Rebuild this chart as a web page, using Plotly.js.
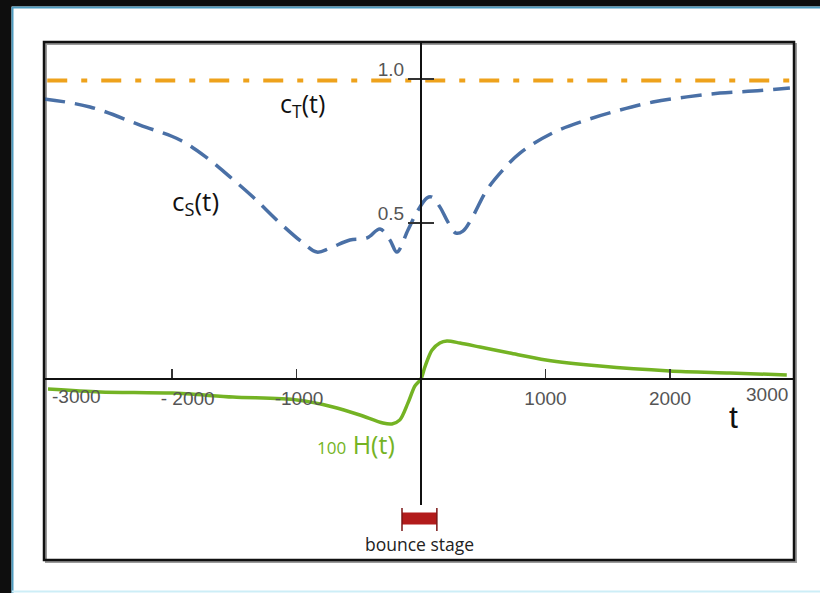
<!DOCTYPE html>
<html>
<head>
<meta charset="utf-8">
<script src="https://cdn.plot.ly/plotly-3.0.1.min.js"></script>
<style>html,body{margin:0;padding:0;background:#ffffff;overflow:hidden;}#chart{position:absolute;left:0;top:0;width:820px;height:593px;}</style>
</head>
<body>
<div id="chart"></div>
<script>
// ---- data ----
const tS = [-3026,-2657,-2255,-1934,-1717,-1533,-1348,-1132,-947,-835,-730,-570,-433,-329,-249,-193,-104,-32,48,88,152,217,281,337,409,530,658,795,1059,1332,1597,1862,2135,2400,2665,2962];
const cS = [0.931,0.903,0.840,0.788,0.726,0.660,0.590,0.500,0.431,0.399,0.413,0.441,0.448,0.479,0.441,0.399,0.476,0.538,0.587,0.590,0.556,0.503,0.465,0.472,0.517,0.615,0.684,0.743,0.813,0.858,0.892,0.920,0.938,0.951,0.958,0.969];
const tT = [-3000,-1500,0,1500,2980];
const cT = [0.995,0.995,0.995,0.995,0.995];
const tH = [-2994,-2576,-1998,-1509,-995,-706,-490,-305,-233,-169,-104,-48,0,32,88,152,209,313,474,714,1003,1437,1998,2480,2937];
const H100 = [-0.035,-0.045,-0.049,-0.0625,-0.073,-0.097,-0.125,-0.153,-0.156,-0.142,-0.083,-0.024,0,0.042,0.10,0.125,0.132,0.125,0.111,0.090,0.066,0.045,0.028,0.021,0.014];
const bounceStage = [-152, 128];
const xTickVals = [-2000,-1000,1000,2000];
const xTickText = ['\u00a0\u00a0\u00a0\u00a0\u00a0\u00a0- 2000','\u00a0-1000','1000','2000'];
const xEndText = ['-3000','3000'];
const yTickVals = [0.5, 1.0];
const yTickText = ['0.5','1.0'];

// ---- layout helpers (pixel -> paper) ----
const L = 44, R = 794, T = 42, B = 560;
const W = R - L, Hh = B - T;
const px = p => (p - L) / W;
const py = p => (B - p) / Hh;

const traces = [
  {x: tT, y: cT, xaxis: 'x', yaxis: 'y', mode: 'lines', hoverinfo: 'skip',
   line: {color: '#EEA21C', width: 4, dash: '20px,14px,6px,14px'}},
  {x: tS, y: cS, xaxis: 'x', yaxis: 'y', mode: 'lines', hoverinfo: 'skip',
   line: {color: '#4A70A6', width: 3.5, dash: '21px,10px', shape: 'spline', smoothing: 1}},
  {x: tH, y: H100, xaxis: 'x', yaxis: 'y2', mode: 'lines', hoverinfo: 'skip',
   line: {color: '#74B324', width: 3.5, shape: 'spline', smoothing: 0.8}},
  {x: bounceStage, y: [0, 0], xaxis: 'x', yaxis: 'y3', mode: 'lines', hoverinfo: 'skip',
   line: {color: '#B21B1B', width: 12}},
  {x: bounceStage, y: [0, 0], xaxis: 'x', yaxis: 'y3', mode: 'markers', hoverinfo: 'skip',
   marker: {symbol: 'line-ns', size: 18, line: {color: '#7a1515', width: 1.5}}},
  {x: [0], y: [0.5], xaxis: 'x', yaxis: 'y4', mode: 'markers', hoverinfo: 'skip', marker: {opacity: 0}}
];

const yDom = [py(505), 1];
const yRange = [0.5 - (505 - 223) / 288, 1 + (79 - 42) / 288];
const y2Range = [-(505 - 379) / 288, (379 - 42) / 288];
const y3c = 518.5;
const y3Dom = [0, py(508)];
const y3H = 560 - 508;
const y3Range = [-(560 - y3c) / y3H, (y3c - 508) / y3H];

const tickFont = {family: 'Liberation Sans, Arial, sans-serif', size: 19, color: '#555'};

const annotations = [
  {x: px(302), y: py(104), text: 'c<sub>T</sub>(t)', font: {family: 'Open Sans, sans-serif', size: 25, color: '#111'}},
  {x: px(195), y: py(202), text: 'c<sub>S</sub>(t)', font: {family: 'Open Sans, sans-serif', size: 26, color: '#111'}},
  {x: px(356), y: py(444), text: '<span style="font-size:17px">100</span> H(t)', font: {family: 'Open Sans, sans-serif', size: 25, color: '#74B324'}},
  {x: px(733), y: py(417), text: 't', font: {family: 'Liberation Sans, Arial, sans-serif', size: 32, color: '#111'}},
  {x: px(419), y: py(544), text: 'bounce stage', font: {family: 'Open Sans, sans-serif', size: 17.5, color: '#222'}},
  {x: px(76), y: py(396), text: xEndText[0], font: tickFont},
  {x: px(767), y: py(394), text: xEndText[1], font: tickFont}
].map(a => Object.assign({xref: 'paper', yref: 'paper', showarrow: false, xanchor: 'center', yanchor: 'middle'}, a));

const layout = {
  width: 820, height: 593,
  margin: {l: L, r: 820 - R, t: T, b: 593 - B, pad: 0},
  paper_bgcolor: '#ffffff',
  plot_bgcolor: 'rgba(0,0,0,0)',
  showlegend: false,
  xaxis: {
    range: [-3026, 2995], anchor: 'free', position: py(379),
    showline: true, linecolor: '#111', linewidth: 2,
    ticks: 'inside', ticklen: 9, tickwidth: 1.5, tickcolor: '#333',
    tickvals: xTickVals, ticktext: xTickText, tickfont: tickFont,
    ticklabelstandoff: 2,
    showgrid: false, zeroline: false, fixedrange: true
  },
  yaxis: {
    domain: yDom, range: yRange, anchor: 'free', position: px(421), side: 'left',
    showline: true, linecolor: '#111', linewidth: 2,
    ticks: 'outside', ticklen: 12, tickwidth: 2, tickcolor: '#333',
    tickvals: yTickVals, ticktext: yTickText, tickfont: tickFont,
    ticklabelshift: -10, ticklabelstandoff: 0,
    showgrid: false, zeroline: false, fixedrange: true
  },
  yaxis4: {
    domain: yDom, range: yRange, overlaying: 'y', anchor: 'free', position: px(421), side: 'left',
    showline: false, ticks: 'inside', ticklen: 12, tickwidth: 2, tickcolor: '#333',
    tickvals: yTickVals, showticklabels: false,
    showgrid: false, zeroline: false, fixedrange: true
  },
  yaxis2: {domain: yDom, range: y2Range, overlaying: 'y', visible: false, fixedrange: true},
  yaxis3: {domain: y3Dom, range: y3Range, anchor: 'x', visible: false, fixedrange: true},
  shapes: [
    {type: 'rect', xref: 'paper', yref: 'paper', layer: 'below',
     x0: px(0), x1: px(820), y0: py(6.5), y1: py(0),
     fillcolor: '#0e0e0e', line: {width: 0}},
    {type: 'rect', xref: 'paper', yref: 'paper', layer: 'below',
     x0: px(0), x1: px(11.5), y0: py(593), y1: py(0),
     fillcolor: '#0e0e0e', line: {width: 0}},
    {type: 'rect', xref: 'paper', yref: 'paper', layer: 'below',
     x0: px(800), x1: px(820), y0: py(593), y1: py(7),
     fillcolor: '#ffffff', line: {width: 0}},
    {type: 'line', xref: 'paper', yref: 'paper', layer: 'below',
     x0: px(12), x1: px(820), y0: py(7.5), y1: py(7.5),
     line: {color: '#4f9cc0', width: 2}},
    {type: 'line', xref: 'paper', yref: 'paper', layer: 'below',
     x0: px(12.5), x1: px(12.5), y0: py(593), y1: py(7),
     line: {color: '#4f9cc0', width: 2}},
    {type: 'line', xref: 'paper', yref: 'paper', layer: 'below',
     x0: px(12), x1: px(820), y0: py(591.5), y1: py(591.5),
     line: {color: '#cdeef7', width: 2}},
    {type: 'rect', xref: 'paper', yref: 'paper', layer: 'below',
     x0: px(46), x1: px(796), y0: py(562), y1: py(44),
     line: {color: '#9a9a9a', width: 2}},
    {type: 'rect', xref: 'paper', yref: 'paper', layer: 'above',
     x0: 0, x1: 1, y0: 0, y1: 1,
     line: {color: '#111', width: 2.5}}
  ],
  annotations: annotations
};

Plotly.newPlot('chart', traces, layout, {staticPlot: true, displayModeBar: false});
</script>
</body>
</html>
